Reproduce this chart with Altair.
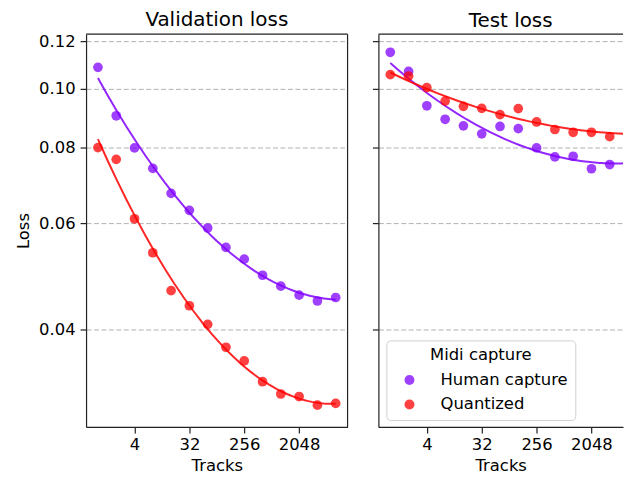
import altair as alt
import pandas as pd

# ---- data ----
tracks = [1, 2, 4, 8, 16, 32, 64, 128, 256, 512, 1024, 2048, 4096, 8192]
series_names = ["Human capture", "Quantized"]
series_colors = ["#8000ff", "#ff0000"]

val_human = [0.1086, 0.0903, 0.0799, 0.0739, 0.0672, 0.0630, 0.0589,
             0.0547, 0.0523, 0.0492, 0.0472, 0.0456, 0.0446, 0.0452]
val_quant = [0.0800, 0.0765, 0.0610, 0.0536, 0.0464, 0.0438, 0.0408,
             0.0374, 0.0355, 0.0328, 0.0313, 0.0310, 0.0300, 0.0302]
test_human = [0.1150, 0.1069, 0.0938, 0.0891, 0.0869, 0.0843, 0.0867,
              0.0860, 0.0799, 0.0772, 0.0774, 0.0738, 0.0750, 0.0750]
test_quant = [0.1056, 0.1050, 0.1005, 0.0955, 0.0936, 0.0929, 0.0907,
              0.0928, 0.0882, 0.0857, 0.0848, 0.0848, 0.0834, 0.0857]

x_ticks = [4, 32, 256, 2048]
y_ticks = [0.04, 0.06, 0.08, 0.10, 0.12]
panel_titles = ["Validation loss", "Test loss"]


def make_df(human, quant):
    rows = []
    for t, v in zip(tracks, human):
        rows.append({"tracks": t, "loss": v, "series": series_names[0]})
    for t, v in zip(tracks, quant):
        rows.append({"tracks": t, "loss": v, "series": series_names[1]})
    return pd.DataFrame(rows)


val_df = make_df(val_human, val_quant)
test_df = make_df(test_human, test_quant)

# ---- layout ----
FONT = "DejaVu Sans"
W_LEFT = 263
W_RIGHT = 246
H = 395
XMIN_EXP = -0.65
XMAX_EXP = 13.65
XMAX_EXP_RIGHT = XMIN_EXP + (XMAX_EXP - XMIN_EXP) * W_RIGHT / W_LEFT
Y_DOMAIN = [0.02761, 0.12321]
SPINE = "#222222"


def panel(df, title, width, xmax_exp, is_left, title_dx):
    x_scale = alt.Scale(type="log", base=2, domain=[2 ** XMIN_EXP, 2 ** xmax_exp], nice=False)
    y_scale = alt.Scale(type="log", domain=Y_DOMAIN, nice=False)
    x_axis = alt.Axis(values=x_ticks, format="d", title="Tracks", grid=False,
                      tickSize=6, labelPadding=4, titlePadding=4,
                      labelLineHeight=16.5, titleLineHeight=16.5,
                      domainColor=SPINE, tickColor=SPINE)
    if is_left:
        y_axis = alt.Axis(values=y_ticks, format=".2f", title="Loss", grid=True,
                          tickSize=6, labelPadding=5, titlePadding=8,
                          titleLineHeight=16.5,
                          minExtent=47, maxExtent=47,
                          gridDash=[5, 2.5], gridColor="#b0b0b0", gridWidth=1,
                          domainColor=SPINE, tickColor=SPINE)
        legend = None
    else:
        y_axis = alt.Axis(values=y_ticks, title=None, labels=False, grid=True,
                          tickSize=6, minExtent=6, maxExtent=6,
                          gridDash=[5, 2.5], gridColor="#b0b0b0", gridWidth=1,
                          domainColor=SPINE, tickColor=SPINE)
        legend = alt.Legend(title="Midi capture", orient="none", legendX=8, legendY=308,
                            symbolType="circle", symbolSize=100, symbolOpacity=0.75,
                            symbolOffset=8, labelOffset=23, rowPadding=7.6,
                            padding=7, titlePadding=8, titleAnchor="middle",
                            fillColor="white", strokeColor="#d0d0d0", cornerRadius=4)

    color_scale = alt.Scale(domain=series_names, range=series_colors)
    base = alt.Chart(df)
    points = base.mark_circle(size=95, opacity=0.75, clip=True).encode(
        x=alt.X("tracks:Q", scale=x_scale, axis=x_axis),
        y=alt.Y("loss:Q", scale=y_scale, axis=y_axis),
        color=alt.Color("series:N", scale=color_scale, legend=legend),
    )
    fit = (
        base.transform_calculate(lx="log(datum.tracks)/log(2)", ly="log(datum.loss)")
        .transform_regression("lx", "ly", method="poly", order=2,
                              groupby=["series"], extent=[0, 13])
        .transform_calculate(tracks="pow(2, datum.lx)", loss="exp(datum.ly)")
        .mark_line(strokeWidth=2, opacity=0.85, clip=True)
        .encode(
            x=alt.X("tracks:Q", scale=x_scale),
            y=alt.Y("loss:Q", scale=y_scale),
            stroke=alt.Stroke("series:N", scale=color_scale, legend=None),
        )
    )
    frame_df = pd.DataFrame({"k": [0]})
    top_rule = alt.Chart(frame_df).mark_rule(color=SPINE, strokeWidth=1.2).encode(
        x=alt.value(0), x2=alt.value(width), y=alt.value(0)
    )
    layers = [fit, points, top_rule]
    if is_left:
        right_rule = alt.Chart(frame_df).mark_rule(color=SPINE, strokeWidth=1.2).encode(
            x=alt.value(width), y=alt.value(0), y2=alt.value(H)
        )
        layers.append(right_rule)
    return alt.layer(*layers).properties(
        width=width, height=H,
        title=alt.TitleParams(title, fontSize=20, fontWeight="normal", font=FONT,
                              color="black", anchor="middle", offset=3, dx=title_dx,
                              lineHeight=20),
    )


left = panel(val_df, panel_titles[0], W_LEFT, XMAX_EXP, True, 0)
right = panel(test_df, panel_titles[1], W_RIGHT, XMAX_EXP_RIGHT, False, 10)

chart = (
    alt.hconcat(left, right, spacing=23)
    .resolve_legend(color="independent")
    .properties(padding={"left": 7.5, "top": 0, "right": 0, "bottom": 0})
    .configure(font=FONT)
    .configure_view(stroke=None)
    .configure_axis(labelFontSize=16.5, titleFontSize=16.5, labelColor="black",
                    titleColor="black", titleFontWeight="normal", labelFont=FONT,
                    titleFont=FONT, domainWidth=1.2, tickWidth=1.2)
    .configure_legend(labelFontSize=16.5, titleFontSize=16.5, titleFontWeight="normal",
                      labelColor="black", titleColor="black", labelFont=FONT, titleFont=FONT)
)

chart.save("out.html", embed_options={"renderer": "svg", "actions": False})
